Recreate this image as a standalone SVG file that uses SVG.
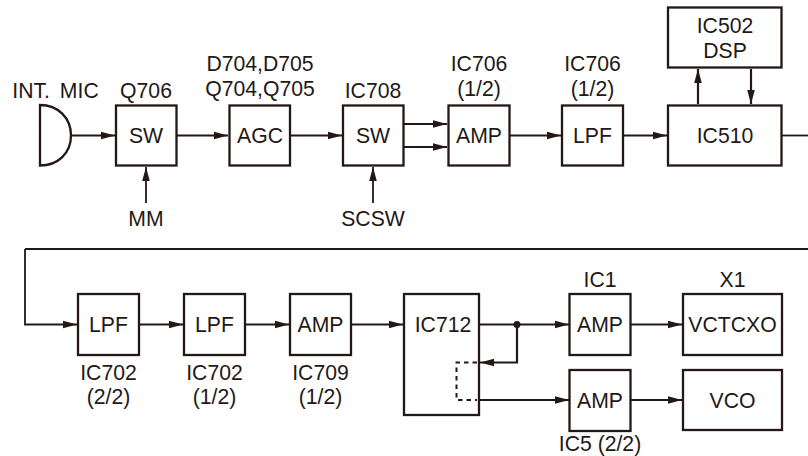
<svg xmlns="http://www.w3.org/2000/svg" width="808" height="456" viewBox="0 0 808 456">
<style>
rect,.mic{fill:#fff;stroke:#231815;stroke-width:2.3}
text{font-family:"Liberation Sans",Arial,sans-serif;font-size:21.200px;fill:#231815;text-anchor:middle}
.c{fill:none;stroke:#231815;stroke-width:1.800}
.d{stroke-dasharray:4.500 4;stroke-width:2}
.bus{stroke-width:2.200}
</style>
<defs>
<marker id="a" markerUnits="userSpaceOnUse" markerWidth="15" markerHeight="10" refX="14" refY="5" orient="auto"><path d="M0 1.200L14 5L0 8.800Z" fill="#231815"/></marker>
</defs>
<rect width="808" height="456" style="fill:#fff;stroke:none"/>
<g id="connectors">
<path class="c" marker-end="url(#a)" d="M71 135.500H115"/>
<path class="c" marker-end="url(#a)" d="M177 135.500H228"/>
<path class="c" marker-end="url(#a)" d="M290 135.500H342"/>
<path class="c" marker-end="url(#a)" d="M146 203V167"/>
<path class="c" marker-end="url(#a)" d="M373 203V167"/>
<path class="c" marker-end="url(#a)" d="M404 124H447"/>
<path class="c" marker-end="url(#a)" d="M404 147H447"/>
<path class="c" marker-end="url(#a)" d="M510 135.500H561"/>
<path class="c" marker-end="url(#a)" d="M623 135.500H667"/>
<path class="c bus" marker-end="url(#a)" d="M698 104V69"/>
<path class="c bus" marker-end="url(#a)" d="M751 69V104"/>
<path class="c" d="M782 135.500H808"/>
<path class="c bus" d="M808 249H25"/>
<path class="c" marker-end="url(#a)" d="M25 249V324.500H77"/>
<path class="c" marker-end="url(#a)" d="M139 324.500H183"/>
<path class="c" marker-end="url(#a)" d="M245 324.500H289"/>
<path class="c" marker-end="url(#a)" d="M351 324.500H403"/>
<path class="c" marker-end="url(#a)" d="M480 324.500H569"/>
<path class="c" marker-end="url(#a)" d="M631 324.500H682"/>
<path class="c" marker-end="url(#a)" d="M480 400H569"/>
<path class="c" marker-end="url(#a)" d="M631 400H682"/>
</g>
<g id="mic"><path class="mic" d="M40 105C58 105 71 118 71 135.500C71 153 58 165.500 40 165.500Z"/><text x="55.500" y="97.500" word-spacing="4">INT. MIC</text></g>
<g id="q706"><rect x="116" y="105.500" width="60.500" height="60"/><text x="146" y="143.300">SW</text><text x="146" y="97.500">Q706</text></g>
<g id="agc"><rect x="229.500" y="105.500" width="60.500" height="60"/><text x="260" y="143.300">AGC</text><text x="260" y="71">D704,D705</text><text x="260" y="95.500">Q704,Q705</text></g>
<g id="ic708"><rect x="343" y="105.500" width="60.500" height="60"/><text x="373" y="143.300">SW</text><text x="373" y="97.500">IC708</text></g>
<text x="146" y="226">MM</text>
<text x="373" y="226">SCSW</text>
<g id="ic706a"><rect x="448.500" y="105.500" width="61" height="60"/><text x="479" y="143.300">AMP</text><text x="479" y="71">IC706</text><text x="479" y="95.500">(1/2)</text></g>
<g id="ic706b"><rect x="562" y="105.500" width="61" height="60"/><text x="592.500" y="143.300">LPF</text><text x="592.500" y="71">IC706</text><text x="592.500" y="95.500">(1/2)</text></g>
<g id="ic510"><rect x="668" y="105.500" width="113.500" height="60"/><text x="725" y="143.300">IC510</text></g>
<g id="ic502"><rect x="668" y="7.500" width="113.500" height="60"/><text x="725" y="33.300">IC502</text><text x="725" y="57.500">DSP</text></g>
<g id="ic702b"><rect x="78" y="294" width="61" height="61"/><text x="108.500" y="332">LPF</text><text x="108.500" y="380">IC702</text><text x="108.500" y="404">(2/2)</text></g>
<g id="ic702a"><rect x="184" y="294" width="61" height="61"/><text x="214.500" y="332">LPF</text><text x="214.500" y="380">IC702</text><text x="214.500" y="404">(1/2)</text></g>
<g id="ic709"><rect x="290" y="294" width="61" height="61"/><text x="320.500" y="332">AMP</text><text x="320.500" y="380">IC709</text><text x="320.500" y="404">(1/2)</text></g>
<g id="ic712"><rect x="404" y="294" width="75" height="121"/><text x="443" y="332">IC712</text></g>
<g id="ic1"><rect x="569.500" y="294" width="61" height="61"/><text x="600" y="332">AMP</text><text x="600" y="287">IC1</text></g>
<g id="ic5"><rect x="569.500" y="370" width="61" height="61"/><text x="600" y="408">AMP</text><text x="600" y="451">IC5 (2/2)</text></g>
<g id="x1"><rect x="683" y="294" width="99" height="61"/><text x="732.500" y="332">VCTCXO</text><text x="732.500" y="287">X1</text></g>
<g id="vco"><rect x="683" y="370" width="99" height="60"/><text x="732.500" y="408">VCO</text></g>
<g id="feedback">
<circle cx="517" cy="324.500" r="3.500" fill="#231815"/>
<path class="c bus" marker-end="url(#a)" d="M517 324.500V362.500H480"/>
<path class="c d" d="M477 362.500H456.500V400H477"/>
</g>
</svg>
